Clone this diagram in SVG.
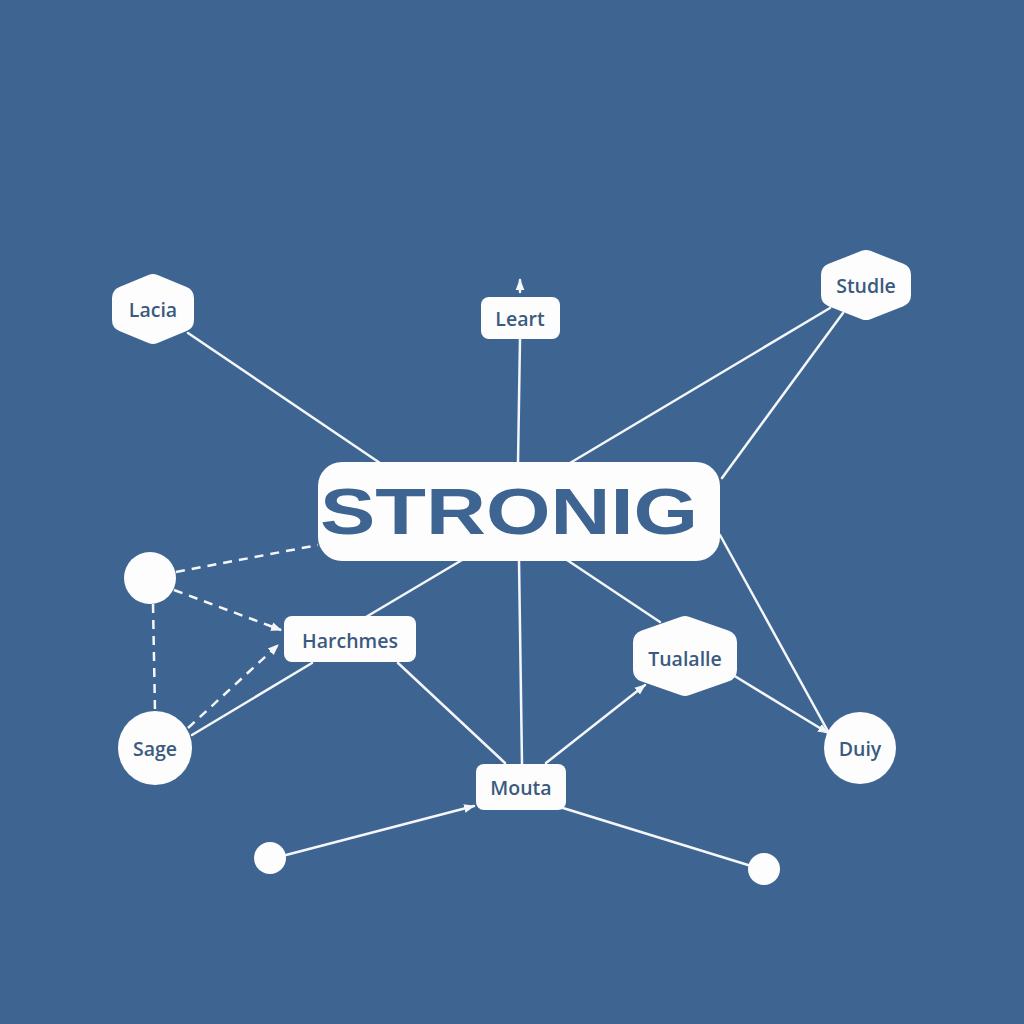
<svg xmlns="http://www.w3.org/2000/svg" width="1024" height="1024" viewBox="0 0 1024 1024">
<defs>
<style>
.bg{fill:#3e6592}
.node{fill:#fdfdfd}
.hex{fill:#fdfdfd;stroke:#fdfdfd;stroke-width:24;stroke-linejoin:round}
.lbl{font-family:"Open Sans","Liberation Sans",sans-serif;font-weight:600;font-size:19.5px;fill:#3a5a80;text-anchor:middle;dominant-baseline:central}
.title{font-family:"Liberation Sans","DejaVu Sans",sans-serif;font-weight:900;font-size:65px;fill:#3e6592;text-anchor:middle;dominant-baseline:central}
.ln{stroke:#f4f6f9;stroke-width:2.5;fill:none;stroke-linecap:round}
.dash{stroke-dasharray:9 7;stroke-linecap:butt}
</style>
<marker id="arrS" viewBox="0 0 10 10" refX="9" refY="5" markerWidth="11" markerHeight="11" orient="auto" markerUnits="userSpaceOnUse">
<path d="M0,1 L10,5 L0,9 z" fill="#f4f6f9"/>
</marker>
</defs>
<rect class="bg" x="0" y="0" width="1024" height="1024"/>
<g id="connectors">
<line class="ln" x1="188" y1="333" x2="380" y2="463"/>
<line class="ln" x1="520" y1="339" x2="518" y2="463"/>
<line class="ln" x1="830" y1="308" x2="570" y2="463"/>
<line class="ln" x1="843" y1="313" x2="722" y2="478"/>
<line class="ln" x1="720" y1="535" x2="830" y2="735"/>
<line class="ln" x1="462" y1="560" x2="366" y2="617"/>
<line class="ln" x1="519" y1="560" x2="522" y2="764"/>
<line class="ln" x1="567" y1="560" x2="660" y2="622"/>
<line class="ln dash" x1="176" y1="572" x2="318" y2="545"/>
<line class="ln dash" x1="174" y1="590" x2="281" y2="630" marker-end="url(#arrS)"/>
<line class="ln dash" x1="153" y1="604" x2="155" y2="711"/>
<line class="ln dash" x1="188" y1="728" x2="278" y2="645" marker-end="url(#arrS)"/>
<line class="ln" x1="192" y1="735" x2="312" y2="663"/>
<line class="ln" x1="398" y1="663" x2="505" y2="763"/>
<line class="ln" x1="546" y1="763" x2="645" y2="685" marker-end="url(#arrS)"/>
<line class="ln" x1="733" y1="675" x2="828" y2="733" marker-end="url(#arrS)"/>
<line class="ln" x1="286" y1="855" x2="474" y2="806" marker-end="url(#arrS)"/>
<line class="ln" x1="563" y1="808" x2="748" y2="865"/>
<line class="ln" x1="520" y1="292" x2="520" y2="280" marker-end="url(#arrS)"/>
</g>
<g id="node-strong">
<rect class="node" x="318" y="462" width="402" height="99" rx="24"/>
<text class="title" x="509" y="511" textLength="378" lengthAdjust="spacingAndGlyphs">STRONIG</text>
</g>
<g id="node-lacia">
<polygon class="hex" points="153,286 182,298 182,320 153,332 124,320 124,298"/>
<text class="lbl" x="153" y="309">Lacia</text>
</g>
<g id="node-leart">
<rect class="node" x="481" y="297" width="79" height="42" rx="8"/>
<text class="lbl" x="520" y="318">Leart</text>
</g>
<g id="node-studle">
<polygon class="hex" points="866,262 899,275 899,295 866,308 833,295 833,275"/>
<text class="lbl" x="866" y="285">Studle</text>
</g>
<g id="node-circle">
<circle class="node" cx="150" cy="578" r="26"/>
</g>
<g id="node-harchmes">
<rect class="node" x="284" y="616" width="132" height="46" rx="8"/>
<text class="lbl" x="350" y="640">Harchmes</text>
</g>
<g id="node-sage">
<circle class="node" cx="155" cy="748" r="37"/>
<text class="lbl" x="155" y="748">Sage</text>
</g>
<g id="node-tualalle">
<polygon class="hex" points="685,628 725,642 725,670 685,684 645,670 645,642"/>
<text class="lbl" x="685" y="658">Tualalle</text>
</g>
<g id="node-duiy">
<circle class="node" cx="860" cy="748" r="36"/>
<text class="lbl" x="860" y="748">Duiy</text>
</g>
<g id="node-mouta">
<rect class="node" x="476" y="764" width="90" height="46" rx="8"/>
<text class="lbl" x="521" y="787">Mouta</text>
</g>
<g id="node-dot1">
<circle class="node" cx="270" cy="858" r="16"/>
</g>
<g id="node-dot2">
<circle class="node" cx="764" cy="869" r="16"/>
</g>
</svg>
